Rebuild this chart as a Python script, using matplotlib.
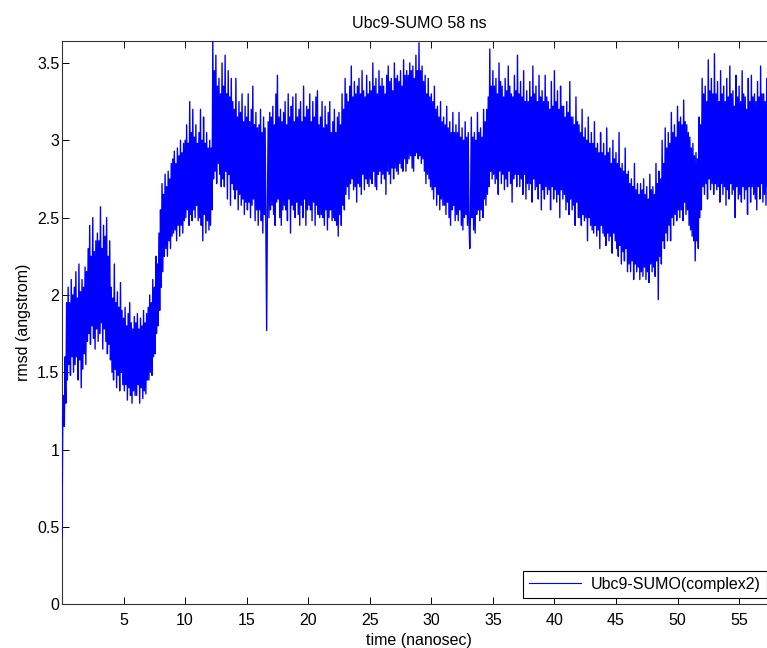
import numpy as np
import matplotlib
matplotlib.use("Agg")
import matplotlib.pyplot as plt

plt.rcParams["font.family"] = ["Liberation Sans", "DejaVu Sans"]

title = "Ubc9-SUMO 58 ns"
series_label = "Ubc9-SUMO(complex2)"
x_label = "time (nanosec)"
y_label = "rmsd (angstrom)"

# sampling interval of the trajectory frames (ns)
dt_ns = 0.0625

# backbone RMSD (angstrom), one row per nanosecond
rmsd = [
    0.44, 1.20, 1.35, 1.15, 1.60, 1.30, 1.95, 1.45, 2.05, 1.55, 1.95, 1.48, 2.10, 1.60, 2.00, 1.50,
    2.05, 1.55, 2.15, 1.60, 1.98, 1.45, 2.20, 1.58, 2.02, 1.40, 2.10, 1.52, 2.05, 1.62, 2.18, 1.55,
    2.15, 1.70, 2.30, 1.75, 2.45, 1.68, 2.25, 1.80, 2.50, 1.72, 2.28, 1.65, 2.35, 1.78, 2.40, 1.70,
    2.35, 1.75, 2.57, 1.82, 2.30, 1.65, 2.45, 1.78, 2.38, 1.70, 2.50, 1.62, 2.25, 1.68, 2.35, 1.58,
    2.05, 1.50, 1.98, 1.45, 2.20, 1.52, 1.95, 1.40, 2.02, 1.48, 1.92, 1.38, 2.08, 1.50, 1.90, 1.42,
    1.85, 1.38, 1.92, 1.42, 1.80, 1.32, 1.88, 1.40, 1.95, 1.35, 1.82, 1.30, 1.78, 1.38, 1.86, 1.35,
    1.82, 1.35, 1.88, 1.42, 1.78, 1.30, 1.85, 1.40, 1.80, 1.33, 1.90, 1.38, 1.82, 1.36, 1.88, 1.45,
    1.92, 1.45, 2.00, 1.50, 1.95, 1.48, 2.10, 1.60, 2.05, 1.62, 2.25, 1.75, 2.20, 1.80, 2.40, 1.90,
    2.55, 2.05, 2.72, 2.15, 2.65, 2.25, 2.78, 2.30, 2.70, 2.25, 2.80, 2.35, 2.75, 2.30, 2.85, 2.38,
    2.88, 2.40, 2.93, 2.42, 2.85, 2.35, 2.95, 2.45, 2.90, 2.38, 3.00, 2.45, 2.92, 2.40, 2.98, 2.48,
    3.00, 2.50, 3.10, 2.55, 2.98, 2.45, 3.25, 2.52, 3.05, 2.48, 3.20, 2.55, 3.02, 2.50, 3.10, 2.58,
    2.98, 2.48, 3.05, 2.50, 3.20, 2.45, 3.00, 2.35, 3.15, 2.52, 2.98, 2.40, 3.05, 2.48, 2.95, 2.42,
    3.00, 2.45, 2.95, 2.55, 3.64, 2.75, 3.45, 2.80, 3.55, 2.72, 3.35, 2.85, 3.40, 2.78, 3.30, 2.70,
    3.50, 2.75, 3.35, 2.70, 3.55, 2.80, 3.30, 2.62, 3.45, 2.78, 3.28, 2.58, 3.40, 2.72, 3.25, 2.68,
    3.20, 2.62, 3.40, 2.68, 3.15, 2.55, 3.25, 2.65, 3.18, 2.58, 3.30, 2.62, 3.12, 2.52, 3.22, 2.60,
    3.15, 2.55, 3.30, 2.60, 3.12, 2.50, 3.20, 2.58, 3.35, 2.62, 3.10, 2.48, 3.18, 2.55, 3.08, 2.45,
    3.10, 2.55, 3.20, 2.48, 3.05, 2.40, 3.15, 2.52, 3.08, 2.45, 1.77, 2.60, 3.12, 2.50, 3.18, 2.55,
    3.15, 2.58, 3.22, 2.52, 3.10, 2.45, 3.30, 2.60, 3.42, 2.62, 3.15, 2.50, 3.20, 2.45, 3.12, 2.55,
    3.18, 2.58, 3.25, 2.55, 3.10, 2.48, 3.30, 2.62, 3.15, 2.40, 3.22, 2.58, 3.28, 2.55, 3.12, 2.50,
    3.30, 2.60, 3.15, 2.52, 3.20, 2.45, 3.25, 2.58, 3.12, 2.50, 3.35, 2.62, 3.15, 2.45, 3.22, 2.55,
    3.20, 2.58, 3.30, 2.55, 3.12, 2.48, 3.25, 2.60, 3.15, 2.45, 3.28, 2.58, 3.32, 2.52, 3.10, 2.50,
    3.15, 2.52, 3.25, 2.50, 3.08, 2.45, 3.22, 2.55, 3.10, 2.42, 3.18, 2.50, 3.25, 2.55, 3.05, 2.48,
    3.12, 2.50, 3.20, 2.48, 3.05, 2.45, 3.15, 2.38, 3.18, 2.52, 3.10, 2.45, 3.30, 2.58, 3.20, 2.55,
    3.40, 2.65, 3.30, 2.70, 3.25, 2.62, 3.35, 2.72, 3.48, 2.75, 3.28, 2.68, 3.38, 2.70, 3.30, 2.60,
    3.35, 2.72, 3.40, 2.70, 3.30, 2.65, 3.45, 2.78, 3.32, 2.68, 3.28, 2.75, 3.42, 2.72, 3.30, 2.70,
    3.38, 2.75, 3.32, 2.72, 3.50, 2.80, 3.35, 2.70, 3.40, 2.68, 3.30, 2.78, 3.45, 2.80, 3.35, 2.72,
    3.40, 2.78, 3.35, 2.75, 3.30, 2.65, 3.42, 2.80, 3.48, 2.78, 3.38, 2.72, 3.40, 2.82, 3.32, 2.75,
    3.50, 2.82, 3.40, 2.80, 3.42, 2.78, 3.38, 2.85, 3.45, 2.82, 3.35, 2.80, 3.52, 2.88, 3.42, 2.80,
    3.45, 2.85, 3.42, 2.88, 3.50, 2.90, 3.45, 2.82, 3.48, 2.80, 3.40, 2.90, 3.55, 2.92, 3.45, 2.88,
    3.63, 2.90, 3.45, 2.85, 3.48, 2.88, 3.38, 2.80, 3.42, 2.72, 3.30, 2.78, 3.40, 2.75, 3.28, 2.70,
    3.30, 2.68, 3.25, 2.62, 3.35, 2.70, 3.20, 2.58, 3.22, 2.65, 3.15, 2.55, 3.25, 2.62, 3.12, 2.58,
    3.15, 2.58, 3.10, 2.52, 3.22, 2.60, 3.08, 2.50, 3.12, 2.45, 3.05, 2.55, 3.18, 2.58, 3.05, 2.48,
    3.10, 2.52, 3.05, 2.48, 3.18, 2.55, 3.02, 2.45, 3.08, 2.42, 3.00, 2.50, 3.12, 2.52, 3.02, 2.45,
    3.05, 2.48, 2.30, 2.55, 3.15, 2.50, 3.02, 2.42, 3.05, 2.40, 3.00, 2.52, 3.18, 2.55, 3.05, 2.48,
    3.08, 2.55, 3.02, 2.50, 3.20, 2.62, 3.12, 2.58, 3.20, 2.65, 3.28, 2.70, 3.59, 2.80, 3.35, 2.75,
    3.45, 2.78, 3.35, 2.72, 3.40, 2.75, 3.30, 2.65, 3.50, 2.80, 3.38, 2.72, 3.35, 2.78, 3.28, 2.68,
    3.40, 2.75, 3.32, 2.70, 3.48, 2.80, 3.35, 2.72, 3.30, 2.60, 3.28, 2.75, 3.42, 2.78, 3.32, 2.70,
    3.55, 2.78, 3.30, 2.70, 3.38, 2.75, 3.28, 2.65, 3.45, 2.78, 3.25, 2.62, 3.32, 2.72, 3.25, 2.68,
    3.38, 2.72, 3.28, 2.60, 3.48, 2.75, 3.30, 2.68, 3.35, 2.70, 3.25, 2.62, 3.42, 2.72, 3.28, 2.55,
    3.32, 2.68, 3.25, 2.62, 3.42, 2.70, 3.28, 2.65, 3.25, 2.68, 3.20, 2.55, 3.38, 2.70, 3.22, 2.62,
    3.45, 2.68, 3.25, 2.60, 3.32, 2.65, 3.20, 2.50, 3.35, 2.68, 3.22, 2.62, 3.22, 2.65, 3.15, 2.55,
    3.25, 2.60, 3.18, 2.52, 3.38, 2.62, 3.15, 2.55, 3.15, 2.58, 3.10, 2.45, 3.28, 2.60, 3.12, 2.50,
    3.10, 2.50, 3.05, 2.45, 3.20, 2.52, 3.02, 2.48, 3.08, 2.50, 3.00, 2.35, 3.15, 2.50, 2.98, 2.45,
    3.05, 2.42, 2.98, 2.40, 3.12, 2.45, 2.95, 2.38, 2.98, 2.42, 2.92, 2.30, 3.05, 2.45, 2.92, 2.40,
    2.98, 2.38, 2.90, 2.32, 3.08, 2.40, 2.92, 2.35, 2.95, 2.38, 2.85, 2.27, 3.00, 2.40, 2.88, 2.35,
    2.92, 2.30, 2.85, 2.25, 3.05, 2.32, 2.82, 2.20, 2.85, 2.28, 2.80, 2.22, 2.95, 2.30, 2.78, 2.15,
    2.80, 2.20, 2.72, 2.15, 2.75, 2.22, 2.70, 2.10, 2.85, 2.20, 2.68, 2.15, 2.72, 2.18, 2.65, 2.10,
    2.72, 2.15, 2.68, 2.12, 2.75, 2.18, 2.65, 2.10, 2.70, 2.15, 2.62, 2.08, 2.78, 2.20, 2.68, 2.15,
    2.70, 2.18, 2.65, 2.12, 2.85, 2.22, 2.72, 1.97, 2.80, 2.25, 2.75, 2.20, 3.00, 2.35, 2.85, 2.30,
    3.08, 2.40, 2.95, 2.35, 3.05, 2.45, 2.98, 2.35, 3.18, 2.50, 3.05, 2.45, 3.10, 2.52, 3.02, 2.48,
    3.22, 2.55, 3.12, 2.50, 3.15, 2.55, 3.10, 2.48, 3.26, 2.60, 3.12, 2.52, 3.10, 2.55, 3.05, 2.45,
    3.02, 2.42, 2.95, 2.38, 2.98, 2.35, 2.90, 2.22, 2.92, 2.35, 2.88, 2.30, 3.15, 2.50, 3.10, 2.55,
    3.40, 2.70, 3.30, 2.65, 3.35, 2.72, 3.25, 2.62, 3.52, 2.75, 3.32, 2.68, 3.40, 2.72, 3.30, 2.65,
    3.56, 2.72, 3.30, 2.68, 3.38, 2.70, 3.25, 2.60, 3.45, 2.72, 3.30, 2.65, 3.35, 2.70, 3.25, 2.58,
    3.40, 2.68, 3.28, 2.62, 3.48, 2.72, 3.30, 2.65, 3.32, 2.68, 3.22, 2.50, 3.42, 2.70, 3.28, 2.62,
    3.35, 2.65, 3.25, 2.60, 3.45, 2.70, 3.30, 2.62, 3.28, 2.68, 3.20, 2.52, 3.40, 2.70, 3.25, 2.60,
    3.42, 2.70, 3.28, 2.65, 3.30, 2.62, 3.25, 2.55, 3.38, 2.70, 3.28, 2.62, 3.48, 2.72, 3.30, 2.60,
    3.30, 2.65, 3.25, 2.58, 3.40, 2.70, 3.28, 2.62, 3.25, 2.60, 3.20, 2.55, 3.35, 2.68, 3.22, 2.62,
    2.90,
]

x_ticks = [5, 10, 15, 20, 25, 30, 35, 40, 45, 50, 55]
y_ticks = [0, 0.5, 1, 1.5, 2, 2.5, 3, 3.5]

time_ns = np.arange(len(rmsd)) * dt_ns

fig = plt.figure(figsize=(7.67, 6.48), dpi=100)
ax = fig.add_axes([62 / 767, (648 - 604.3) / 648, 714 / 767, 563.8 / 648])

ax.plot(time_ns, rmsd, color=(0, 0, 1), linewidth=1.0, label=series_label,
        zorder=3)

ax.set_xlim(0, 58)
ax.set_ylim(0, 3.645)
ax.set_xticks(x_ticks)
ax.set_yticks(y_ticks)
ax.set_xticklabels([f"{v:g}" for v in x_ticks])
ax.set_yticklabels([f"{v:g}" for v in y_ticks])

fs = 11.5
ax.tick_params(direction="in", length=5, width=0.7, top=True, right=True,
               labelsize=fs, colors="black")
ax.tick_params(axis="x", pad=6)
ax.tick_params(axis="y", pad=2)
for s in ax.spines.values():
    s.set_linewidth(0.8)
    s.set_color("#333333")

ax.set_title(title, fontsize=fs, pad=9)
ax.set_xlabel(x_label, fontsize=fs, labelpad=4)
ax.set_ylabel(y_label, fontsize=fs, labelpad=4)

leg = ax.legend(loc="lower left", bbox_to_anchor=(461 / 714, 0.0106),
                borderaxespad=0, fontsize=fs, handlelength=3.2,
                handletextpad=0.66, borderpad=0.4, fancybox=False,
                framealpha=1, edgecolor="black")
leg.get_frame().set_linewidth(0.8)
leg.get_lines()[0].set_linewidth(0.8)

fig.savefig("out.png", dpi=100)
